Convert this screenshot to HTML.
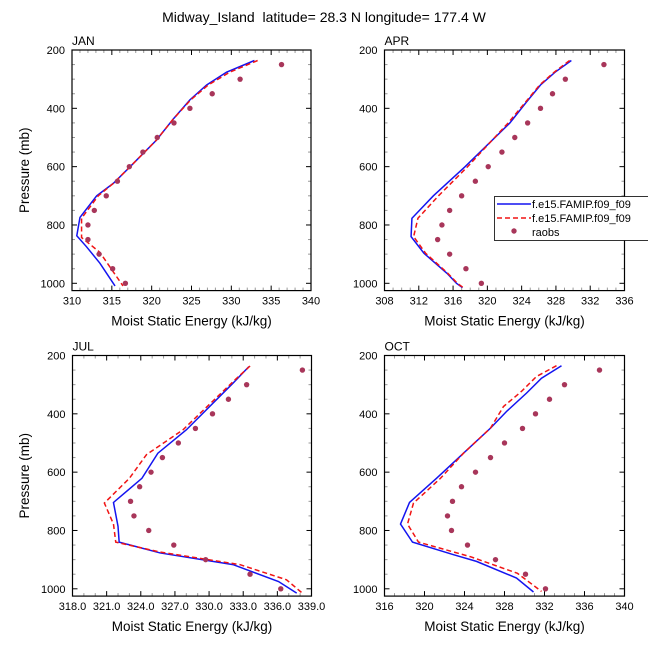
<!DOCTYPE html>
<html><head><meta charset="utf-8"><style>
body{margin:0;background:#fff}
svg{display:block;font-family:"Liberation Sans",Arial,sans-serif}
</style></head><body>
<svg id="c" width="648" height="648" xmlns="http://www.w3.org/2000/svg">
<text x="324" y="22" text-anchor="middle" font-size="14" style="white-space:pre">Midway_Island  latitude= 28.3 N longitude= 177.4 W</text>
</svg>
<script>
const obsP=[250,300,350,400,450,500,550,600,650,700,750,800,850,900,950,1000];
// JAN
const janBlueP=[236,276,320,371,437,509,589,657,700,774,837,874,931,1009];
const janBlue=[332.9,329.4,326.9,324.8,322.7,320.6,317.7,315.2,313.1,311.0,310.6,311.8,313.5,315.4];
const janRedP=[236,276,320,371,437,509,589,657,700,777,843,894,1009];
const janRed=[333.3,329.8,327.1,324.9,322.7,320.6,317.7,315.2,313.3,311.2,311.2,313.5,316.4];
const janObs=[336.3,331.1,327.6,324.8,322.8,320.7,318.9,317.2,315.7,314.3,312.8,312.0,312.0,313.4,315.1,316.7];
// APR
const aprBlueP=[236,276,320,377,451,600,700,777,840,897,966,1000,1015];
const aprBlue=[329.8,327.9,326.2,324.6,322.6,317.4,313.7,311.2,311.1,312.6,315.3,316.4,317.1];
const aprRedP=[236,276,320,377,451,600,700,777,840,897,966,1000,1015];
const aprRed=[329.6,327.8,326.1,324.5,322.4,317.7,314.3,311.9,311.4,312.8,315.4,316.5,317.2];
const aprObs=[333.6,329.1,327.6,326.2,324.7,323.2,321.7,320.1,318.6,317.0,315.6,314.7,314.2,315.6,317.5,319.3];
// JUL
const julBlueP=[238,295,455,535,621,704,786,840,877,917,975,1015];
const julBlue=[333.5,332.1,328.0,325.5,324.1,321.6,322.0,322.1,325.7,332.1,336.1,337.7];
const julRedP=[236,290,455,540,621,706,778,840,874,917,969,1015];
const julRed=[333.6,332.1,327.7,324.5,323.0,320.8,321.6,321.8,325.7,332.7,336.8,338.2];
const julObs=[338.2,333.3,331.7,330.3,328.8,327.3,325.9,324.9,323.9,323.1,323.4,324.7,326.9,329.7,333.6,336.3];
// OCT
const octBlueP=[235,278,329,392,449,535,621,704,778,840,883,906,963,1011];
const octBlue=[333.7,331.7,330.2,328.2,326.6,323.9,321.2,318.5,317.6,318.8,322.9,325.2,329.2,330.9];
const octRedP=[235,272,323,375,449,535,621,706,778,840,890,947,1009];
const octRed=[333.2,331.2,329.7,327.9,326.6,323.9,321.6,318.9,318.3,319.4,324.6,329.3,331.7];
const octObs=[337.5,334.0,332.5,331.1,329.8,328.0,326.6,325.1,323.7,322.8,322.3,322.7,324.3,327.1,330.1,332.1];

const NS='http://www.w3.org/2000/svg';
const svg=document.getElementById('c');
function mk(tag,attrs,parent){const e=document.createElementNS(NS,tag);for(const k in attrs)e.setAttribute(k,attrs[k]);(parent||svg).appendChild(e);return e;}

const panels=[
 {key:'jan',label:'JAN',x0:72,x1:311,y0:50,xmin:310,xmax:340,step:5,dec:0,minor:5,bp:janBlueP,b:janBlue,rp:janRedP,r:janRed,o:janObs,ylab:true},
 {key:'apr',label:'APR',x0:384.5,x1:624.5,y0:50,xmin:308,xmax:336,step:4,dec:0,minor:4,bp:aprBlueP,b:aprBlue,rp:aprRedP,r:aprRed,o:aprObs,ylab:false},
 {key:'jul',label:'JUL',x0:72.5,x1:311.5,y0:355.5,xmin:318,xmax:339,step:3,dec:1,minor:3,bp:julBlueP,b:julBlue,rp:julRedP,r:julRed,o:julObs,ylab:true},
 {key:'oct',label:'OCT',x0:384.5,x1:624.5,y0:355.5,xmin:316,xmax:340,step:4,dec:0,minor:4,bp:octBlueP,b:octBlue,rp:octRedP,r:octRed,o:octObs,ylab:false}
];
const PMIN=200,PMAX=1025,PXPERMB=233.3/800;
panels.forEach(p=>{
 const g=mk('g',{});
 
 
 const ybot=p.y0+(PMAX-PMIN)*PXPERMB;
 const X=v=>p.x0+(v-p.xmin)/(p.xmax-p.xmin)*(p.x1-p.x0);
 const Y=v=>p.y0+(v-PMIN)*PXPERMB;
 const ticks=mk('g',{stroke:'#000','stroke-width':1},g);
 
 
 const nsub=p.minor;
 for(let v=p.xmin;v<=p.xmax+1e-9;v+=p.step/nsub){
  const major=Math.abs(((v-p.xmin)/p.step)-Math.round((v-p.xmin)/p.step))<1e-6;
  const L=major?5:3,xx=X(v);
  mk('line',{x1:xx,x2:xx,y1:ybot,y2:ybot-L,stroke:major?'#000':'#999'},ticks);
  mk('line',{x1:xx,x2:xx,y1:p.y0,y2:p.y0+L,stroke:major?'#000':'#999'},ticks);
  if(major){const t=mk('text',{x:xx,y:ybot+14,'text-anchor':'middle','font-size':11,stroke:'none'},g);t.textContent=v.toFixed(p.dec);
   }
 }
 for(let v=200;v<=1000;v+=50){
  const major=v%200===0,L=major?5:3,yy=Y(v);
  mk('line',{x1:p.x0,x2:p.x0+L,y1:yy,y2:yy,stroke:major?'#000':'#999'},ticks);
  mk('line',{x1:p.x1,x2:p.x1-L,y1:yy,y2:yy,stroke:major?'#000':'#999'},ticks);
  if(major){const t=mk('text',{x:p.x0-7,y:yy+4,'text-anchor':'end','font-size':11},g);t.textContent=v;
   }
 }
 const fr=mk('rect',{x:p.x0,y:p.y0,width:p.x1-p.x0,height:ybot-p.y0,fill:'none',stroke:'#000','stroke-width':1.2},g);
 
 const lb=mk('text',{x:p.x0,y:p.y0-5,'font-size':12},g);lb.textContent=p.label;
 
 const xl=mk('text',{x:(p.x0+p.x1)/2,y:ybot+35,'text-anchor':'middle','font-size':13.5},g);xl.textContent='Moist Static Energy (kJ/kg)';
 
 if(p.ylab){const yl=mk('text',{x:0,y:0,'text-anchor':'middle','font-size':13.5,transform:`translate(29,${(p.y0+ybot)/2}) rotate(-90)`},g);yl.textContent='Pressure (mb)';
  }
 const blue=mk('polyline',{points:p.b.map((v,i)=>X(v)+','+Y(p.bp[i])).join(' '),fill:'none',stroke:'#1414f0','stroke-width':1.5},g);
 
 const red=mk('polyline',{points:p.r.map((v,i)=>X(v)+','+Y(p.rp[i])).join(' '),fill:'none',stroke:'#f01414','stroke-width':1.5,'stroke-dasharray':'5,3'},g);
 
 p.o.forEach((v,i)=>{const c=mk('circle',{cx:X(v),cy:Y(obsP[i]),r:2.7,fill:'#a8365a'},g);
  });
});
const lg=mk('g',{});


mk('rect',{x:494.5,y:196.5,width:160,height:44,fill:'#fff',stroke:'#000','stroke-width':0.8},lg);
mk('line',{x1:497,x2:531,y1:204,y2:204,stroke:'#1414f0','stroke-width':1.5},lg);
mk('line',{x1:497,x2:531,y1:218,y2:218,stroke:'#f01414','stroke-width':1.5,'stroke-dasharray':'5,3'},lg);
mk('circle',{cx:514,cy:231,r:2.7,fill:'#a8365a'},lg);
[['f.e15.FAMIP.f09_f09',208],['f.e15.FAMIP.f09_f09',222],['raobs',236]].forEach(([t,y],i)=>{
 const e=mk('text',{x:532,y:y,'font-size':11},lg);e.textContent=t;
 
});
</script>
</body></html>
